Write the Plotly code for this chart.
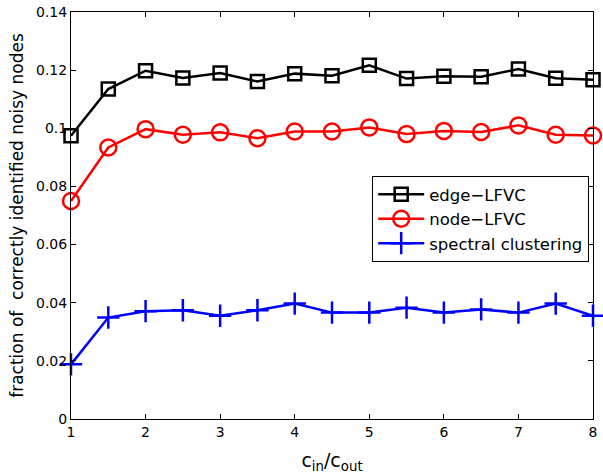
import plotly.graph_objects as go

x_vals = [1, 1.5, 2, 2.5, 3, 3.5, 4, 4.5, 5, 5.5, 6, 6.5, 7, 7.5, 8]
edge_lfvc = [0.0974, 0.1135, 0.1198, 0.1173, 0.1190, 0.1161, 0.1188, 0.1181,
             0.1217, 0.1171, 0.1179, 0.1177, 0.1204, 0.1172, 0.1167]
node_lfvc = [0.0750, 0.0934, 0.0997, 0.0978, 0.0986, 0.0966, 0.0989, 0.0989,
             0.1003, 0.0980, 0.0991, 0.0987, 0.1010, 0.0978, 0.0975]
spectral = [0.0188, 0.0349, 0.0371, 0.0374, 0.0355, 0.0374, 0.0397, 0.0366,
            0.0366, 0.0383, 0.0366, 0.0377, 0.0366, 0.0397, 0.0355]

y_tick_vals = [0, 0.02, 0.04, 0.06, 0.08, 0.1, 0.12, 0.14]
y_tick_text = ["0", "0.02", "0.04", "0.06", "0.08", "0.1", "0.12", "0.14"]
x_tick_vals = [1, 2, 3, 4, 5, 6, 7, 8]

font_family = "DejaVu Sans, sans-serif"

fig = go.Figure()
fig.add_trace(go.Scatter(
    x=x_vals, y=edge_lfvc, mode="lines+markers", name="edge\u2212LFVC", cliponaxis=False,
    line=dict(color="black", width=2.5),
    marker=dict(symbol="square-open", size=13, color="black", line=dict(width=2.5))))
fig.add_trace(go.Scatter(
    x=x_vals, y=node_lfvc, mode="lines+markers", name="node\u2212LFVC", cliponaxis=False,
    line=dict(color="red", width=2.5),
    marker=dict(symbol="circle-open", size=16, color="red", line=dict(width=2.5))))
fig.add_trace(go.Scatter(
    x=x_vals, y=spectral, mode="lines+markers", name="spectral clustering", cliponaxis=False,
    line=dict(color="blue", width=2.5),
    marker=dict(symbol="cross-thin-open", size=16, color="blue", line=dict(width=2.5, color="blue"))))

axis_common = dict(showline=True, linecolor="black", linewidth=1, mirror="ticks",
                   ticks="inside", ticklen=5, tickcolor="black", showgrid=False,
                   zeroline=False, automargin=False, ticklabeloverflow="allow",
                   tickfont=dict(size=14, color="black", family=font_family))

fig.update_xaxes(range=[1, 8], tickvals=x_tick_vals,
                 title=dict(text="c<sub>in</sub>/c<sub>out</sub>", font=dict(size=19, color="black", family=font_family), standoff=14),
                 **axis_common)
fig.update_yaxes(range=[0, 0.14], tickvals=y_tick_vals, ticktext=y_tick_text,
                 title=dict(text="fraction of\u00a0 correctly identified noisy nodes", font=dict(size=17, color="black", family=font_family), standoff=8),
                 **axis_common)

fig.update_layout(
    width=603, height=474,
    margin=dict(l=71, r=10, t=12, b=55),
    plot_bgcolor="white", paper_bgcolor="white",
    font=dict(family=font_family, color="black"),
    legend=dict(x=0.577, y=0.597, xanchor="left", yanchor="top",
                bordercolor="black", borderwidth=1, bgcolor="white",
                font=dict(size=16.5, color="black", family=font_family),
                tracegroupgap=0, itemwidth=46),
)

# remove the default 8px page margin so the figure fills the 603x474 window exactly
fig.write_html("out.html", config={"displayModeBar": False},
               post_script="document.body.style.margin='0';")
